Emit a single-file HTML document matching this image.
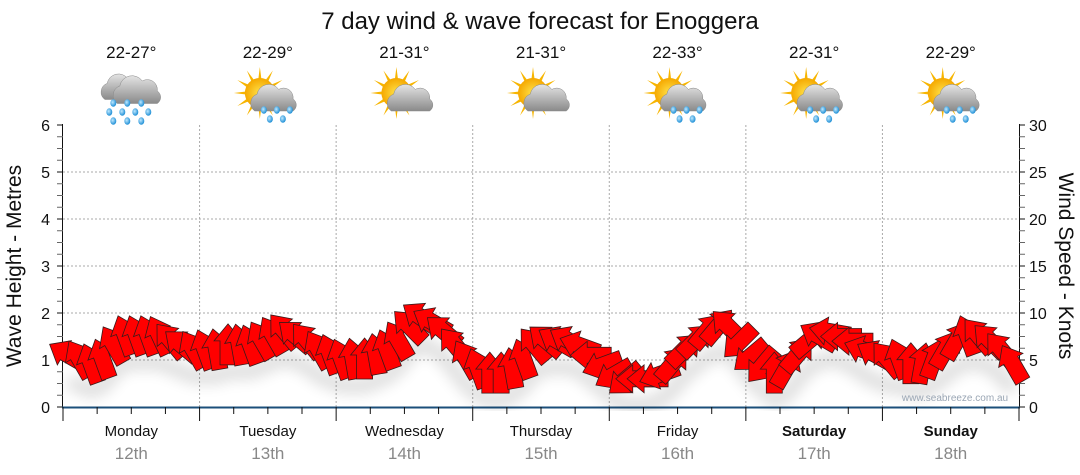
<!DOCTYPE html>
<html><head><meta charset="utf-8">
<style>
html,body{margin:0;padding:0;background:#fff;}
svg{display:block;font-family:"Liberation Sans",sans-serif;}
</style></head>
<body>
<svg id="chart" width="1080" height="475" viewBox="0 0 1080 475">
<defs>
<radialGradient id="sunG" cx="50%" cy="50%" r="50%"><stop offset="0" stop-color="#ffe24a"/><stop offset="1" stop-color="#f5a800"/></radialGradient>
<linearGradient id="cloudG" x1="0" y1="0" x2="0" y2="1"><stop offset="0" stop-color="#e4e4e4"/><stop offset="1" stop-color="#8a8a8a"/></linearGradient>
<radialGradient id="dropG" cx="40%" cy="40%" r="60%"><stop offset="0" stop-color="#bfe8ff"/><stop offset="1" stop-color="#1e8fd6"/></radialGradient>
<filter id="blur"><feGaussianBlur stdDeviation="7"/></filter>
</defs>
<text x="540" y="29" text-anchor="middle" font-size="24" fill="#111">7 day wind &amp; wave forecast for Enoggera</text>
<g id="grid"></g>
<g id="axes"></g>
<g id="icons"></g>
<g id="shadow" filter="url(#blur)" opacity="0.12"></g>
<g id="arrows"></g>
<text x="955" y="401" text-anchor="middle" font-size="10" fill="#9aa6b4">www.seabreeze.com.au</text>
<text transform="translate(21,266) rotate(-90)" text-anchor="middle" font-size="21" fill="#111">Wave Height - Metres</text>
<text transform="translate(1059,266) rotate(90)" text-anchor="middle" font-size="21" fill="#111">Wind Speed - Knots</text>
</svg>
<script>
const days = ["Monday","Tuesday","Wednesday","Thursday","Friday","Saturday","Sunday"];
const dates = ["12th","13th","14th","15th","16th","17th","18th"];
const temps = ["22-27°","22-29°","21-31°","21-31°","22-33°","22-31°","22-29°"];
const iconTypes = ["rain","sunrain","suncloud","suncloud","sunrain","sunrain","sunrain"];
const waveTicks = [0,1,2,3,4,5,6];
const windTicks = [0,5,10,15,20,25,30];
const windKnots = [
 5.5,5,4.5,5,6.5,7.5,7.5,7.5,7.5,7,6.5,6,
 6,6,6.5,6.5,6.5,7,7.5,8,7.5,7,6,5.5,
 5,5,5,5.5,6,7,8.5,9.5,9,8,6.5,5,
 4,3.5,3.5,4,5,6.5,7,7,7,6.5,5.5,4.5,
 3.5,3,3,3,3.5,4.5,6,7,8,8.5,8.5,7,
 5.5,4.5,3.5,4,5.5,7,7.5,8,7.5,7,6,5.5,
 5,5,4.5,4.5,5,6,7,7.5,7.5,7,6,4.5];
const windDir = [
 -60,-30,-20,-20,-30,-20,-20,-20,-25,-40,-50,-30,
 -20,-10,0,-10,-20,-30,-30,-40,-50,-40,-30,-20,
 -20,-10,0,-10,-20,-30,-45,-55,-60,-50,-40,-30,
 -20,0,0,-10,-20,-40,-50,-60,-60,-70,-90,-110,
 -120,-130,-90,-90,-110,40,45,45,40,40,-45,-135,
 -130,-140,0,30,40,50,-60,-80,-90,-90,-70,-60,
 -40,-20,0,10,20,30,30,-20,-40,-45,-40,-30];

const NS="http://www.w3.org/2000/svg";
const X0=63, X1=1019, Y0=407, Y1=125;
const dayW=(X1-X0)/7;
const yWave=v=>Y0-(v/6)*(Y0-Y1);
const yWind=v=>Y0-(v/30)*(Y0-Y1);
const xHour=h=>X0+h/(24*7)*(X1-X0);
function el(tag,attrs,parent,txt){const e=document.createElementNS(NS,tag);for(const k in attrs)e.setAttribute(k,attrs[k]);if(txt!==undefined)e.textContent=txt;parent.appendChild(e);return e;}

const grid=document.getElementById('grid'), axes=document.getElementById('axes');
waveTicks.forEach(v=>{
  if(v>0&&v<6){const l=el('line',{x1:X0,x2:X1,y1:yWave(v),y2:yWave(v),stroke:'#aaa','stroke-dasharray':'2,2'},grid);
  
  }
  const t=el('text',{x:50,y:yWave(v)+6,'text-anchor':'end','font-size':16,fill:'#111'},axes,String(v));
  
  
});
for(let d=1;d<7;d++){const l=el('line',{x1:X0+d*dayW,x2:X0+d*dayW,y1:Y1,y2:Y0,stroke:'#aaa','stroke-dasharray':'2,2'},grid);
  
  }
windTicks.forEach(v=>{
  const t=el('text',{x:1029,y:yWind(v)+6,'font-size':16,fill:'#111'},axes,String(v));
  
  
});
el('line',{x1:X0-0.5,x2:X0-0.5,y1:Y1-1,y2:Y0,stroke:'#111'},axes);
el('line',{x1:X1+0.5,x2:X1+0.5,y1:Y1-1,y2:Y0,stroke:'#111'},axes);
for(let i=0;i<=24;i++){const y=Y1+i*(Y0-Y1)/24;
  el('line',{x1:X0-6,x2:X0,y1:y,y2:y,stroke:i%4==0?'#111':'#666'},axes);
  el('line',{x1:X1,x2:X1+6,y1:y,y2:y,stroke:i%4==0?'#111':'#666'},axes);}
el('line',{x1:X0-1,x2:X1+1,y1:Y0+0.5,y2:Y0+0.5,stroke:'#1b4f7a','stroke-width':2},axes);
for(let i=0;i<=28;i++){const x=X0+i*dayW/4;
  el('line',{x1:x,x2:x,y1:Y0,y2:Y0+(i%4==0?14:7),stroke:'#111'},axes);}
days.forEach((d,i)=>{
  const cx=X0+(i+0.5)*dayW;
  const t=el('text',{x:cx,y:436,'text-anchor':'middle','font-size':15,fill:'#111','font-weight':i>=5?'bold':'normal'},axes,d);
  
  
  const t2=el('text',{x:cx,y:459,'text-anchor':'middle','font-size':17,fill:'#888'},axes,dates[i]);
  
  
  const t3=el('text',{x:cx,y:58,'text-anchor':'middle','font-size':17,fill:'#111'},axes,temps[i]);
  
  
});

// icons
const icons=document.getElementById('icons');
function drops(g,pts){pts.forEach(p=>el('ellipse',{cx:p[0],cy:p[1],rx:3,ry:3.8,fill:'url(#dropG)'},g));}
function cloud(g,x,y,s){el('path',{d:`M${x-16*s},${y+10*s} a${8*s},${8*s} 0 0 1 ${2*s},${-14*s} a${10*s},${10*s} 0 0 1 ${18*s},${-4*s} a${8*s},${8*s} 0 0 1 ${12*s},${8*s} a${6*s},${6*s} 0 0 1 ${0},${10*s} z`,fill:'url(#cloudG)',stroke:'#888','stroke-width':0.5},g);}
function sun(g,x,y){for(let a=0;a<360;a+=30){const r=Math.PI*a/180;
  el('polygon',{points:`${x+Math.cos(r-0.15)*12},${y+Math.sin(r-0.15)*12} ${x+Math.cos(r)*26},${y+Math.sin(r)*26} ${x+Math.cos(r+0.15)*12},${y+Math.sin(r+0.15)*12}`,fill:'#f7b500'},g);}
  el('circle',{cx:x,cy:y,r:15,fill:'url(#sunG)'},g);}
iconTypes.forEach((t,i)=>{
  const cx=X0+(i+0.5)*dayW;
  const g=el('g',{},icons);
  
  
  if(t==='rain'){cloud(g,cx-8,88,1.15);cloud(g,cx+6,91,1.25);
    drops(g,[[cx-18,103],[cx-4,103],[cx+10,103],[cx-22,112],[cx-9,112],[cx+4,112],[cx+17,112],[cx-18,121],[cx-4,121],[cx+10,121]]);}
  else{sun(g,cx-8,93);cloud(g,cx+6,99,1.2);
    if(t==='sunrain')drops(g,[[cx-4,110],[cx+9,110],[cx+22,110],[cx+2,119],[cx+15,119]]);}
});

// arrows
const arrows=document.getElementById('arrows'), shadow=document.getElementById('shadow');
const arrowPath="M0,-22 L14,-5 L8,-5 L8,19 L-8,19 L-8,-5 L-14,-5 Z";
let sp="";
windKnots.forEach((k,i)=>{
  const x=xHour(i*2+1), y=yWind(k);
  sp+=(i?"L":"M")+x+","+(y+26);
});
el('path',{d:sp,stroke:'#000','stroke-width':16,fill:'none'},shadow);
windKnots.forEach((k,i)=>{
  const x=xHour(i*2+1), y=yWind(k);
  const p=el('path',{d:arrowPath,transform:`translate(${x},${y}) rotate(${windDir[i]})`,fill:'#ff0000',stroke:'#3a1a1a','stroke-width':0.8},arrows);
  
  
});
</script>
</body></html>
